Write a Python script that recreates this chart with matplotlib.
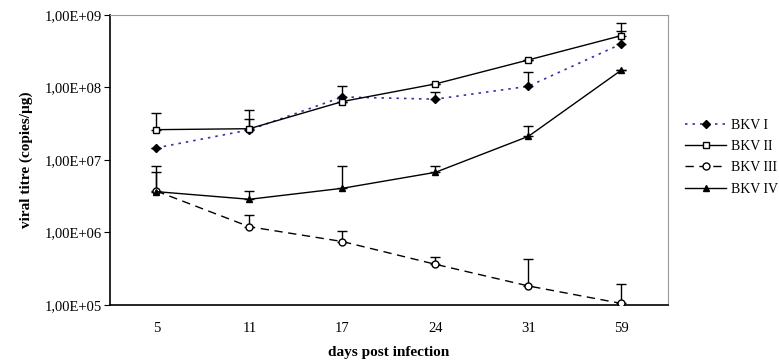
import numpy as np
import matplotlib.pyplot as plt
from matplotlib.ticker import FixedLocator, NullLocator

days = ["5", "11", "17", "24", "31", "59"]

# mean titres (copies/ug) and upper error bar ends
bkv1 = [1.47e7, 2.6e7, 7.4e7, 6.9e7, 1.04e8, 4.0e8]
bkv1_top = [1.47e7, 3.7e7, 1.06e8, 8.6e7, 1.65e8, 6.1e8]
bkv2 = [2.62e7, 2.7e7, 6.4e7, 1.12e8, 2.4e8, 5.2e8]
bkv2_top = [4.4e7, 4.9e7, 6.4e7, 1.12e8, 2.4e8, 7.8e8]
bkv3 = [3.73e6, 1.2e6, 7.5e5, 3.64e5, 1.83e5, 1.05e5]
bkv3_top = [6.8e6, 1.76e6, 1.06e6, 4.55e5, 4.27e5, 1.95e5]
bkv4 = [3.66e6, 2.87e6, 4.07e6, 6.76e6, 2.12e7, 1.74e8]
bkv4_top = [8.2e6, 3.78e6, 8.3e6, 8.2e6, 2.97e7, 1.74e8]

tick_vals = [1e5, 1e6, 1e7, 1e8, 1e9]
tick_labels = ["1,00E+05", "1,00E+06", "1,00E+07", "1,00E+08", "1,00E+09"]

plt.rcParams["font.family"] = ["Liberation Serif", "DejaVu Serif"]


def plot(ax, vals, top, fmt, label, **kw):
    x = np.arange(len(vals))
    vals = np.array(vals)
    err = [np.zeros(len(vals)), np.array(top) - vals]
    ax.errorbar(x, vals, yerr=err, fmt="none", ecolor="black",
                elinewidth=1, capsize=3.5, capthick=1, zorder=2)
    kw.setdefault("markersize", 5)
    ax.plot(x, vals, fmt, label=label, zorder=3, **kw)


def main():
    fig = plt.figure(figsize=(7.79, 3.62), dpi=100)
    ax = fig.add_axes([0.141, 0.1575, 0.7165, 0.8011])

    plot(ax, bkv1, bkv1_top, "D", "BKV I", color="#3333aa", linestyle=(0, (1.5, 3)),
         linewidth=1.2, markerfacecolor="black", markeredgecolor="black", markersize=4.5)
    plot(ax, bkv2, bkv2_top, "s-", "BKV II", color="black", linewidth=1,
         markerfacecolor="white", markeredgecolor="black")
    plot(ax, bkv3, bkv3_top, "o", "BKV III", color="black", linestyle=(0, (6, 4)),
         linewidth=1, markerfacecolor="white", markeredgecolor="black")
    plot(ax, bkv4, bkv4_top, "^-", "BKV IV", color="black", linewidth=1,
         markerfacecolor="black", markeredgecolor="black")

    ax.set_yscale("log")
    ax.set_ylim(1e5, 1e9)
    ax.set_xlim(-0.5, len(days) - 0.5)
    ax.yaxis.set_major_locator(FixedLocator(tick_vals))
    ax.yaxis.set_minor_locator(NullLocator())
    ax.set_yticklabels(tick_labels, fontsize=10.5)
    ax.set_xticks(np.arange(len(days)))
    ax.set_xticklabels(days, fontsize=10.5)
    ax.tick_params(axis="x", length=0, pad=12)
    ax.tick_params(axis="y", length=4, direction="out", pad=2)

    for side in ["top", "right"]:
        ax.spines[side].set_color("#999999")
    for side in ["left", "bottom"]:
        ax.spines[side].set_color("black")
        ax.spines[side].set_linewidth(1.2)

    ax.set_xlabel("days post infection", fontsize=11, fontweight="bold", labelpad=8)
    ax.set_ylabel("viral titre (copies/\u00b5g)", fontsize=11, fontweight="bold", labelpad=8)

    fig.legend(*ax.get_legend_handles_labels(), loc="center left",
               bbox_to_anchor=(0.879, 0.566), bbox_transform=fig.transFigure,
               frameon=False, fontsize=10, handlelength=3.0, handletextpad=0.35,
               labelspacing=0.6, borderpad=0, borderaxespad=0)

    fig.savefig("out.png", dpi=100)


if __name__ == "__main__":
    main()
